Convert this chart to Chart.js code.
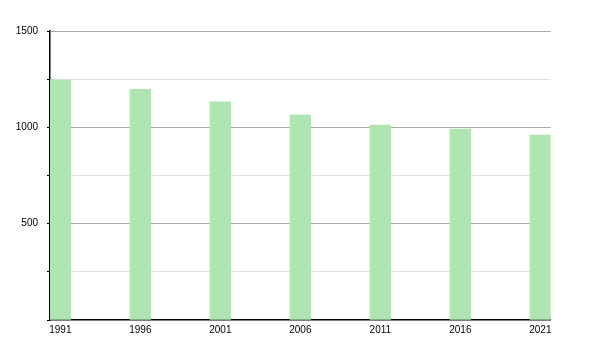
<!DOCTYPE html>
<html>
<head>
<meta charset="utf-8">
<script src="https://cdn.jsdelivr.net/npm/chart.js@4"></script>
<style>
html,body{margin:0;padding:0;background:#fff;}
#wrap{width:600px;height:350px;}
</style>
</head>
<body>
<div id="wrap"><canvas id="c" width="600" height="350"></canvas></div>
<script>
const years = [1991, 1996, 2001, 2006, 2011, 2016, 2021];
const population = [1246, 1197, 1133, 1064, 1012, 991, 960];
const yTickLabels = [500, 1000, 1500];

Chart.defaults.font.family = '"Liberation Sans", Arial, sans-serif';
Chart.defaults.font.size = 10;
Chart.defaults.color = '#000';

new Chart(document.getElementById('c'), {
  type: 'bar',
  data: {
    datasets: [{
      data: years.map((y, i) => ({x: y, y: population[i]})),
      backgroundColor: '#b0e4b0',
      borderWidth: 0,
      barThickness: 20.7
    }]
  },
  options: {
    responsive: false,
    animation: false,
    plugins: {legend: {display: false}, tooltip: {enabled: false}},
    layout: {padding: {top: 31, right: 49.3, left: 0, bottom: 0}},
    scales: {
      x: {
        type: 'linear',
        min: 1990.353,
        max: 2021.647,
        offset: false,
        afterBuildTicks: s => { s.ticks = years.map(v => ({value: v})); },
        afterFit: s => { s.height = 30; },
        grid: {display: false, drawTicks: false},
        border: {display: true, color: '#000', width: 1.5},
        ticks: {padding: 4, maxRotation: 0, autoSkip: false, callback: v => String(v)}
      },
      y: {
        min: 0,
        max: 1500,
        afterBuildTicks: s => {
          const t = [];
          for (let v = 0; v <= 1500; v += 250) t.push({value: v});
          s.ticks = t;
        },
        afterFit: s => { s.width = 50; },
        grid: {
          color: ctx => {
            const v = ctx.tick ? ctx.tick.value : 0;
            if (v === 0) return 'rgba(0,0,0,0)';
            return yTickLabels.includes(v) ? '#aaaaaa' : '#e2e2e2';
          },
          tickColor: '#000',
          tickLength: 3,
          drawTicks: true
        },
        border: {display: true, color: '#000', width: 1.5},
        ticks: {
          padding: 9,
          callback: v => yTickLabels.includes(v) ? String(v) : ''
        }
      }
    }
  }
});
</script>
</body>
</html>
